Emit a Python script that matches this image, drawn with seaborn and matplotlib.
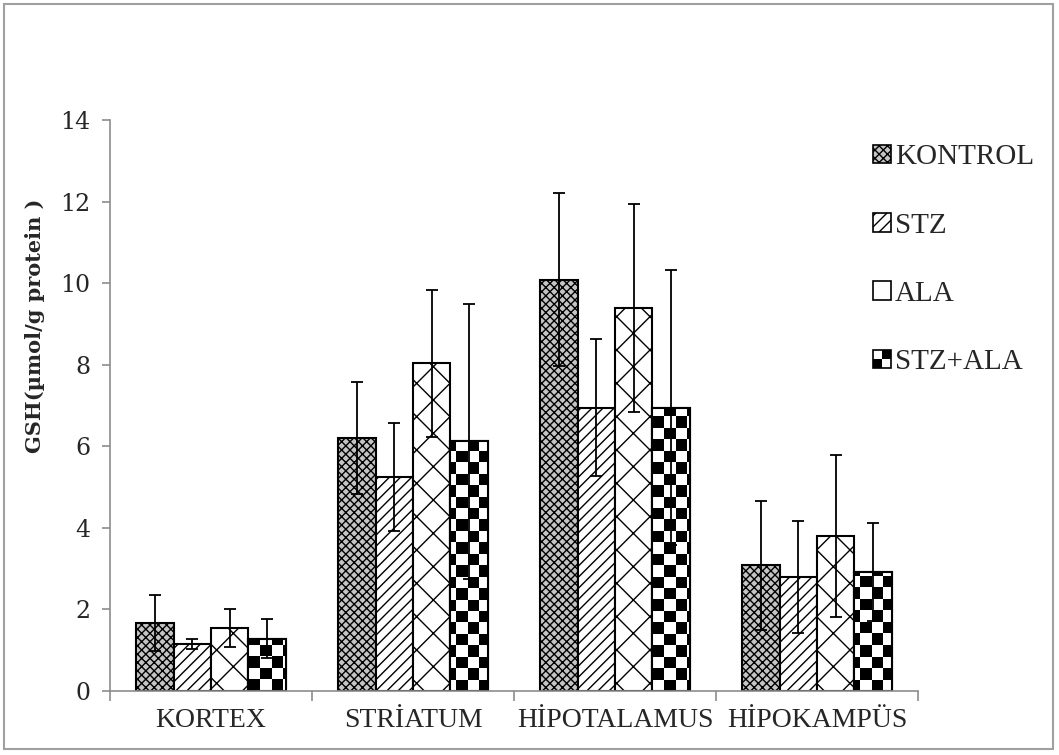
import numpy as np
import pandas as pd
import matplotlib
matplotlib.use("Agg")
import matplotlib.pyplot as plt
import seaborn as sns
from matplotlib.patches import Patch, Rectangle
from matplotlib.legend_handler import HandlerBase

# data
regions = ["KORTEX", "STRİATUM", "HİPOTALAMUS", "HİPOKAMPÜS"]
groups = ["KONTROL", "STZ", "ALA", "STZ+ALA"]
kontrol = [1.67, 6.20, 10.08, 3.08]
kontrol_err = [0.68, 1.37, 2.12, 1.59]
stz = [1.15, 5.25, 6.95, 2.80]
stz_err = [0.12, 1.32, 1.68, 1.38]
ala = [1.55, 8.03, 9.40, 3.80]
ala_err = [0.47, 1.80, 2.55, 1.98]
stz_ala = [1.28, 6.12, 6.95, 2.92]
stz_ala_err = [0.48, 3.38, 3.37, 1.21]

means = {"KONTROL": kontrol, "STZ": stz, "ALA": ala, "STZ+ALA": stz_ala}
errs = {"KONTROL": kontrol_err, "STZ": stz_err, "ALA": ala_err, "STZ+ALA": stz_ala_err}

rows = []
for g in groups:
    for r, m in zip(regions, means[g]):
        rows.append({"region": r, "group": g, "gsh": m})
df = pd.DataFrame(rows)

sns.set_style("white")
plt.rcParams["hatch.linewidth"] = 1.0

fig = plt.figure(figsize=(10.59, 7.55), dpi=100)
ax = fig.add_axes([110 / 1059, 64 / 755, 808 / 1059, 571 / 755])

sns.barplot(data=df, x="region", y="gsh", hue="group", order=regions,
            hue_order=groups, errorbar=None, width=0.74, gap=0,
            edgecolor="black", linewidth=1.5, legend=False, ax=ax)

kontrol_face = "#c4c4c4"
styles = {
    "KONTROL": dict(face=kontrol_face, hatch="xxxx"),
    "STZ": dict(face="white", hatch="///"),
    "ALA": dict(face="white", hatch="x"),
    "STZ+ALA": dict(face="white", hatch=None),
}

ax.set_xlim(-0.5, 3.5)
ax.set_ylim(0, 14)

# checkerboard image used for STZ+ALA bars
nx, ny = 70, 50
checker = (np.add.outer(np.arange(ny), np.arange(nx)) % 2).astype(float)

for g, cont in zip(groups, ax.containers):
    st = styles[g]
    for i, bar in enumerate(cont):
        bar.set_facecolor(st["face"])
        if st["hatch"]:
            bar.set_hatch(st["hatch"])
        if g == "STZ+ALA":
            im = ax.imshow(checker, cmap="gray", extent=(-0.5, 3.5, 0, 14),
                           aspect="auto", interpolation="nearest",
                           origin="lower", zorder=bar.get_zorder() + 0.1)
            im.set_clip_path(bar)
            edge = Rectangle(bar.get_xy(), bar.get_width(), bar.get_height(),
                             fill=False, edgecolor="black", linewidth=1.5,
                             zorder=bar.get_zorder() + 0.2)
            ax.add_patch(edge)
        xc = bar.get_x() + bar.get_width() / 2
        ax.errorbar(xc, bar.get_height(), yerr=errs[g][i], fmt="none",
                    ecolor="black", elinewidth=1.3, capsize=4.5, capthick=1.3,
                    zorder=5)

ax.set_xlim(-0.5, 3.5)
ax.set_ylim(0, 14)

# axes styling (excel-like)
for s in ["top", "right"]:
    ax.spines[s].set_visible(False)
for s in ["left", "bottom"]:
    ax.spines[s].set_color("#8c8c8c")
    ax.spines[s].set_linewidth(1.2)

ax.set_yticks(np.arange(0, 15, 2))
ax.tick_params(axis="y", left=True, length=6, color="#8c8c8c", width=1.2,
               labelsize=17, pad=8)
for lab in ax.get_yticklabels():
    lab.set_family("DejaVu Serif")
ax.set_xticks(np.arange(-0.5, 4, 1), minor=True)
ax.tick_params(axis="x", which="major", length=0, labelsize=20, pad=12)
ax.tick_params(axis="x", which="minor", bottom=True, length=7,
               color="#8c8c8c", width=1.2)
for lab in ax.get_xticklabels():
    lab.set_family("Liberation Serif")
ax.set_xlabel("")
ax.set_ylabel("GSH(µmol/g protein )", family="DejaVu Serif",
              fontweight="bold", fontsize=15)
ax.yaxis.set_label_coords(-0.08, 0.64)


class CheckerHandler(HandlerBase):
    def create_artists(self, legend, orig_handle, xdescent, ydescent,
                       width, height, fontsize, trans):
        s = min(width, height)
        x0, y0 = -xdescent, -ydescent + (height - s) / 2
        arts = [Rectangle((x0, y0), s, s, facecolor="white",
                          edgecolor="black", linewidth=1.2, transform=trans)]
        h = s / 2
        arts.append(Rectangle((x0, y0), h, h, facecolor="black",
                              edgecolor="none", transform=trans))
        arts.append(Rectangle((x0 + h, y0 + h), h, h, facecolor="black",
                              edgecolor="none", transform=trans))
        return arts


handles = [
    Patch(facecolor=kontrol_face, edgecolor="black", hatch="xxxx", linewidth=1.2),
    Patch(facecolor="white", edgecolor="black", hatch="///", linewidth=1.2),
    Patch(facecolor="white", edgecolor="black", linewidth=1.2),
    Patch(facecolor="white", edgecolor="black", linewidth=1.2),
]
leg = fig.legend(handles, groups, loc="upper left",
                 bbox_to_anchor=(847 / 1059, 1 - 118 / 755),
                 frameon=False, handlelength=0.6, handleheight=0.6,
                 handletextpad=0.15, labelspacing=1.45,
                 prop={"family": "Liberation Serif", "size": 21},
                 handler_map={handles[3]: CheckerHandler()})

# outer border of the chart
fig.patches.append(Rectangle((4 / 1059, 6 / 755), 1049 / 1059, 745 / 755,
                             transform=fig.transFigure, fill=False,
                             edgecolor="#a0a0a0", linewidth=1.5))

fig.savefig("out.png", dpi=100)
